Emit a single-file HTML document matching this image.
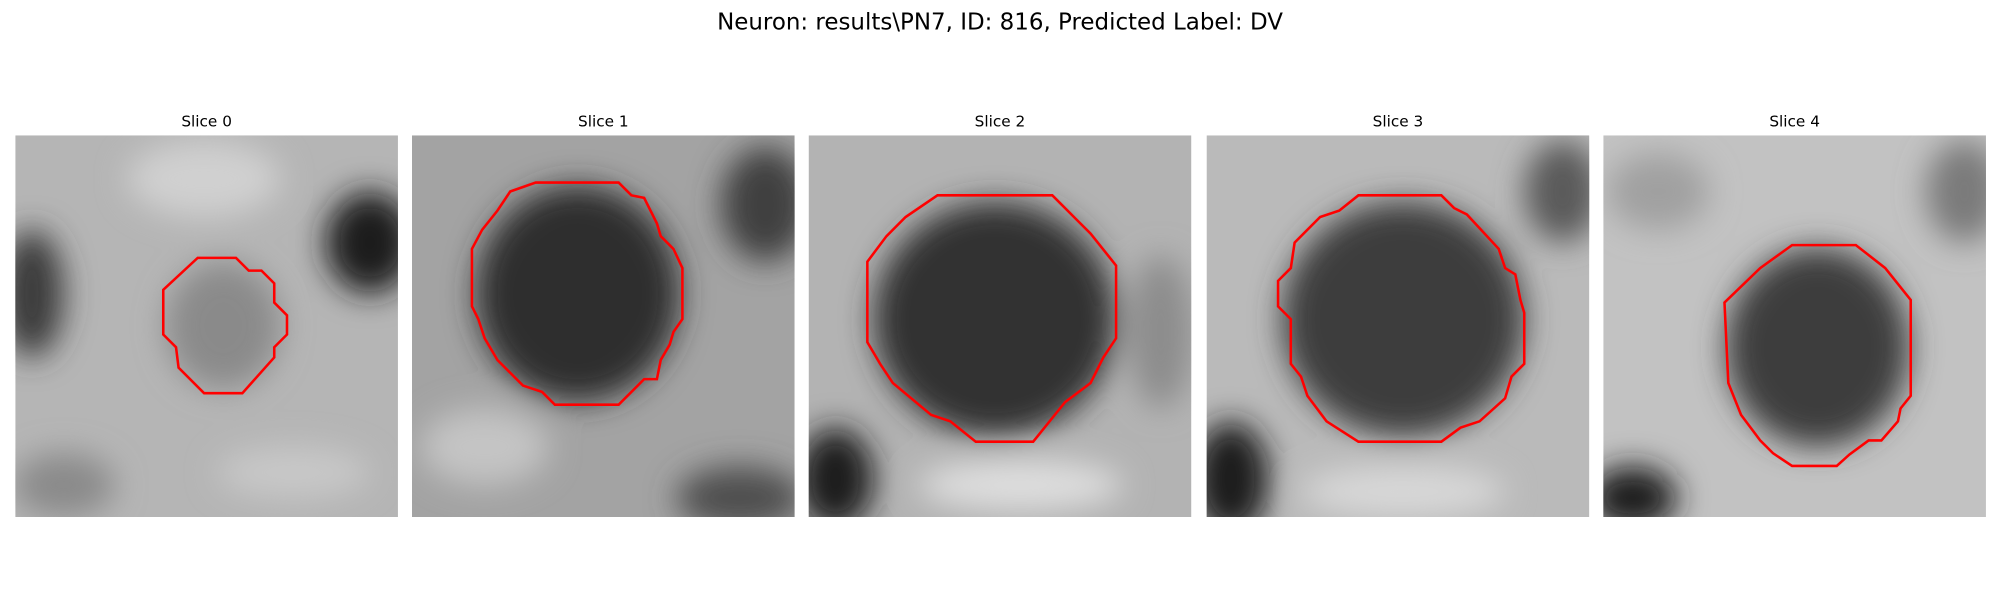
<!DOCTYPE html>
<html><head><meta charset="utf-8"><style>
html,body{margin:0;padding:0;background:#fff;}
svg{display:block;}
</style></head><body>
<svg width="2000" height="600" viewBox="0 0 1568 470" preserveAspectRatio="none" font-family="'DejaVu Sans','Liberation Sans',sans-serif">
<defs>
<filter id="b" x="-50%" y="-50%" width="200%" height="200%"><feGaussianBlur stdDeviation="12"/></filter>
<filter id="b2" x="-50%" y="-50%" width="200%" height="200%"><feGaussianBlur stdDeviation="6"/></filter>
<clipPath id="c0"><rect x="12" y="106" width="300" height="299"/></clipPath>
<clipPath id="c1"><rect x="323" y="106" width="300" height="299"/></clipPath>
<clipPath id="c2"><rect x="634" y="106" width="300" height="299"/></clipPath>
<clipPath id="c3"><rect x="946" y="106" width="300" height="299"/></clipPath>
<clipPath id="c4"><rect x="1257" y="106" width="300" height="299"/></clipPath>
</defs>
<text x="784" y="23" text-anchor="middle" font-size="18" fill="#000">Neuron: results\PN7, ID: 816, Predicted Label: DV</text>

<g>
<text x="162" y="99" text-anchor="middle" font-size="12">Slice 0</text>
<g clip-path="url(#c0)">
<rect x="12" y="106" width="300" height="299" fill="#b5b5b5"/>
<g filter="url(#b)">
<ellipse cx="25" cy="230" rx="25" ry="50" fill="#3a3a3a"/>
<ellipse cx="290" cy="190" rx="35" ry="40" fill="#1e1e1e"/>
<ellipse cx="175" cy="255" rx="45" ry="50" fill="#8a8a8a"/>
<ellipse cx="160" cy="140" rx="60" ry="30" fill="#d0d0d0"/>
<ellipse cx="50" cy="380" rx="40" ry="25" fill="#8a8a8a"/>
<ellipse cx="230" cy="370" rx="60" ry="20" fill="#c8c8c8"/>
</g></g>
<polygon points="155,202 185,202 195,212 205,212 215,222 215,237 225,247 225,262 215,272 215,280 190,308 160,308 140,288 138,272 128,262 128,227" fill="none" stroke="#ff0000" stroke-width="2"/>
</g>

<g>
<text x="473" y="99" text-anchor="middle" font-size="12">Slice 1</text>
<g clip-path="url(#c1)">
<rect x="323" y="106" width="300" height="299" fill="#a3a3a3"/>
<g filter="url(#b)">
<ellipse cx="453" cy="230" rx="80" ry="85" fill="#2f2f2f"/>
<ellipse cx="600" cy="160" rx="35" ry="45" fill="#404040"/>
<ellipse cx="380" cy="350" rx="50" ry="30" fill="#c4c4c4"/>
<ellipse cx="580" cy="390" rx="50" ry="25" fill="#505050"/>
</g></g>
<polygon points="420,143 485,143 495,153 505,155 515,175 518,185 528,195 535,210 535,250 528,260 525,270 518,282 515,297 505,297 485,317 435,317 425,307 410,302 400,292 390,282 380,265 375,250 370,240 370,195 378,180 390,165 400,150" fill="none" stroke="#ff0000" stroke-width="2"/>
</g>

<g>
<text x="784" y="99" text-anchor="middle" font-size="12">Slice 2</text>
<g clip-path="url(#c2)">
<rect x="634" y="106" width="300" height="299" fill="#b3b3b3"/>
<g filter="url(#b)">
<ellipse cx="780" cy="250" rx="95" ry="92" fill="#323232"/>
<ellipse cx="655" cy="375" rx="30" ry="40" fill="#1c1c1c"/>
<ellipse cx="910" cy="260" rx="25" ry="60" fill="#8c8c8c"/>
<ellipse cx="800" cy="380" rx="80" ry="20" fill="#dedede"/>
</g></g>
<polygon points="735,153 825,153 845,173 855,183 875,208 875,265 865,280 855,300 835,315 810,346 765,346 745,330 730,325 700,300 690,285 680,268 680,205 695,185 710,170" fill="none" stroke="#ff0000" stroke-width="2"/>
</g>

<g>
<text x="1096" y="99" text-anchor="middle" font-size="12">Slice 3</text>
<g clip-path="url(#c3)">
<rect x="946" y="106" width="300" height="299" fill="#bababa"/>
<g filter="url(#b)">
<ellipse cx="1100" cy="250" rx="95" ry="92" fill="#3e3e3e"/>
<ellipse cx="965" cy="375" rx="30" ry="45" fill="#1e1e1e"/>
<ellipse cx="1225" cy="150" rx="30" ry="40" fill="#5a5a5a"/>
<ellipse cx="1100" cy="385" rx="80" ry="20" fill="#d8d8d8"/>
</g></g>
<polygon points="1065,153 1130,153 1140,163 1150,168 1175,195 1180,210 1188,215 1192,235 1195,245 1195,285 1185,295 1180,312 1160,330 1145,335 1130,346 1065,346 1040,330 1025,310 1020,295 1012,285 1012,250 1002,240 1002,220 1012,210 1015,190 1035,170 1050,165" fill="none" stroke="#ff0000" stroke-width="2"/>
</g>

<g>
<text x="1407" y="99" text-anchor="middle" font-size="12">Slice 4</text>
<g clip-path="url(#c4)">
<rect x="1257" y="106" width="300" height="299" fill="#c2c2c2"/>
<g filter="url(#b)">
<ellipse cx="1425" cy="272" rx="72" ry="78" fill="#3c3c3c"/>
<ellipse cx="1280" cy="390" rx="35" ry="25" fill="#1a1a1a"/>
<ellipse cx="1540" cy="150" rx="30" ry="40" fill="#7a7a7a"/>
<ellipse cx="1300" cy="150" rx="40" ry="30" fill="#a0a0a0"/>
</g></g>
<polygon points="1405,192 1455,192 1478,210 1498,235 1498,310 1490,320 1488,330 1475,345 1465,345 1450,356 1440,365 1405,365 1390,355 1380,345 1365,325 1355,300 1352,237 1380,210" fill="none" stroke="#ff0000" stroke-width="2"/>
</g>
</svg>
</body></html>
